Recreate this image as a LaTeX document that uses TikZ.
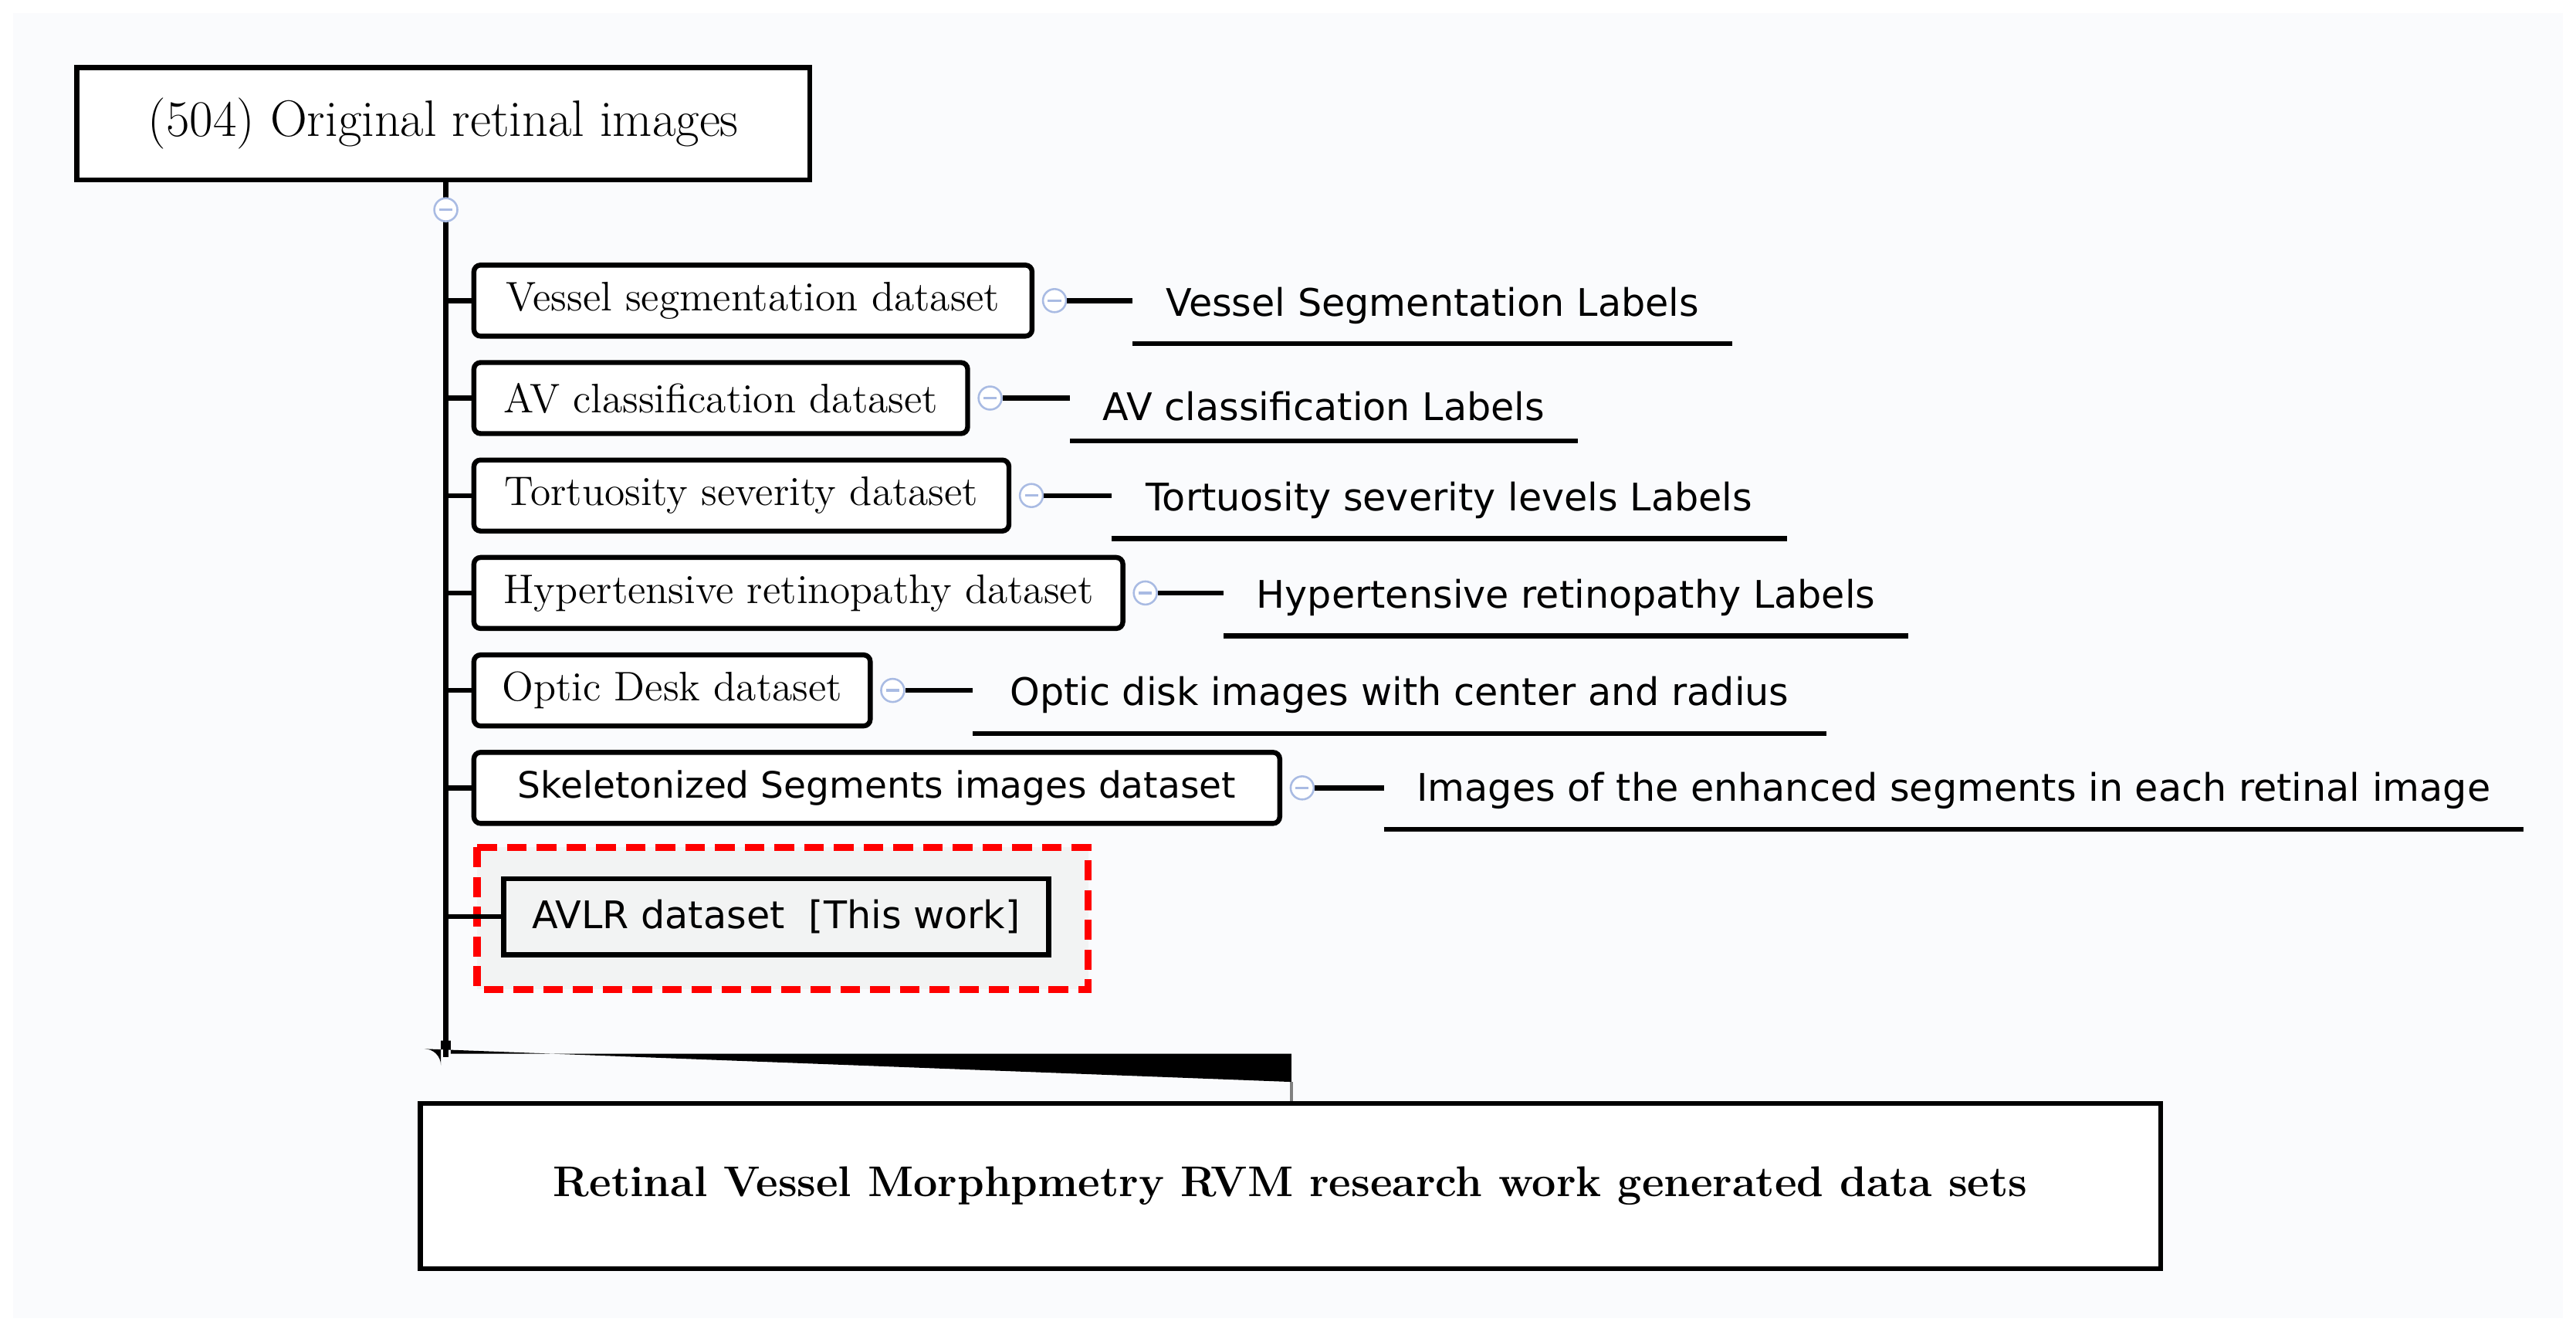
\documentclass[tikz,border=0pt]{standalone}
\usepackage{fontspec}
\newfontfamily\labelfont{DejaVu Sans}
\usetikzlibrary{positioning}
\definecolor{bgpaper}{HTML}{FAFBFD}
\definecolor{knobblue}{HTML}{A9BBE3}
\definecolor{avlrfill}{HTML}{F2F3F3}
\tikzset{
	dsbox/.style={draw,line width=1.5pt,rounded corners=2pt,fill=white,anchor=west,minimum height=21.5pt,inner xsep=8pt,outer sep=0pt,font=\fontsize{12.5}{13}\selectfont},
	knob/.style={circle,draw=knobblue,line width=0.6pt,fill=white,minimum size=7pt,inner sep=0pt,
		path picture={\draw[knobblue,line width=0.8pt] ([xshift=-2pt]path picture bounding box.center) -- ([xshift=2pt]path picture bounding box.center);}},
	lbl/.style={anchor=south west,inner xsep=10pt,inner ysep=6pt,outer sep=0pt,font=\labelfont\fontsize{11.5}{12}\selectfont},
	link/.style={line width=1.5pt}
}
\begin{document}
\begin{tikzpicture}[x=0.5pt,y=-0.5pt]
	\fill[white] (0,0) rectangle (1560,806);
	\fill[bgpaper] (8,8) rectangle (1552,798);
	\useasboundingbox (0,0) rectangle (1560,806);

	% root and trunk
	\node[draw,line width=1.5pt,fill=white,outer sep=0pt,minimum width=222pt,minimum height=34pt,font=\fontsize{15.5}{16}\selectfont] (root) at (268.5,75) {(504) Original retinal images};
	\draw[link] (270,110) -- (270,640);
	\fill (267,630) -- (267,645) arc[start angle=180,end angle=90,radius=-10] -- (782,655) -- (782,638) -- (273,638) -- (273,630) -- cycle;
	\fill[gray] (781,655) rectangle (783,667);
	\node[knob] (k0) at (270,127) {};

	% datasets
	\node[dsbox,minimum width=169pt] (d1) at (287,182) {Vessel segmentation dataset};
	\node[dsbox,minimum width=149.5pt] (d2) at (287,241) {AV classification dataset};
	\node[dsbox,minimum width=162pt] (d3) at (287,300) {Tortuosity severity dataset};
	\node[dsbox,minimum width=196.5pt] (d4) at (287,359) {Hypertensive retinopathy dataset};
	\node[dsbox,minimum width=120pt] (d5) at (287,418) {Optic Desk dataset};
	\node[dsbox,minimum width=244pt,font=\labelfont\fontsize{11}{12}\selectfont] (d6) at (287,477) {Skeletonized Segments images dataset};

	% labels
	\node[lbl,minimum width=180pt] (l1) at (686,208) {Vessel Segmentation Labels};
	\node[lbl,minimum width=152pt] (l2) at (648,267) {AV classification Labels};
	\node[lbl,minimum width=204.5pt] (l3) at (673,326) {Tortuosity severity levels Labels};
	\node[lbl,minimum width=204.5pt] (l4) at (741,385) {Hypertensive retinopathy Labels};
	\node[lbl,minimum width=258.5pt] (l5) at (589,444) {Optic disk images with center and radius};
	\node[lbl,minimum width=341pt] (l6) at (838,502) {Images of the enhanced segments in each retinal image};

	\foreach \i/\g in {1/686,2/648,3/673,4/741,5/589,6/838} {
		\draw[link] (270,0 |- d\i.west) -- (d\i.west);
		\node[knob,right=3pt of d\i.east] (k\i) {};
		\draw[link] (k\i.east) -- (\g,0 |- k\i.east);
		\draw[link] (l\i.south west) -- (l\i.south east);
	}

	% this work
	\draw[red,line width=2.2pt,dash pattern=on 6pt off 3pt,fill=avlrfill] (289,513) rectangle (659,599);
	\node[draw,line width=1.6pt,fill=avlrfill,anchor=west,outer sep=0pt,minimum width=165pt,minimum height=23pt,font=\labelfont\fontsize{11.5}{12}\selectfont] (d7) at (305,555) {AVLR dataset~~[This work]};
	\draw[link] (270,0 |- d7.west) -- (d7.west);

	% title
	\node[draw,line width=1.5pt,fill=white,outer sep=0pt,minimum width=527pt,minimum height=50pt,font=\bfseries\fontsize{13}{14}\selectfont] (title) at (781.5,718) {Retinal Vessel Morphpmetry RVM research work generated data sets};
\end{tikzpicture}
\end{document}
